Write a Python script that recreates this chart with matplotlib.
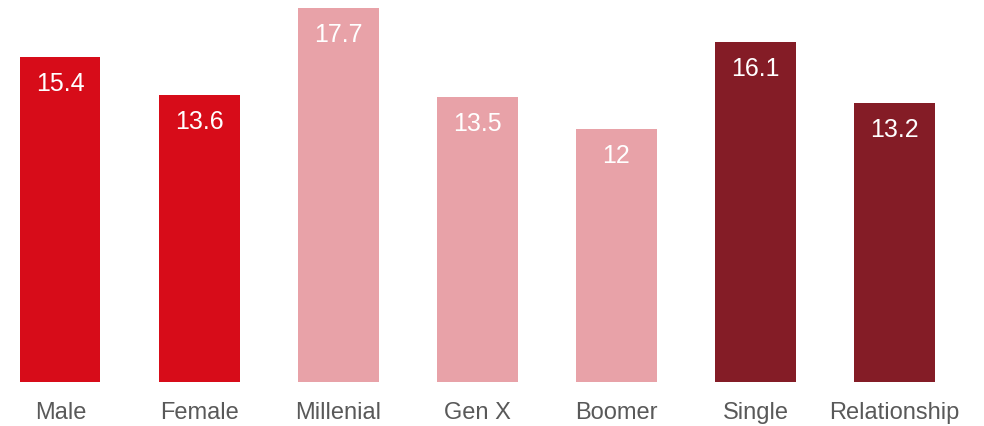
import matplotlib.pyplot as plt

categories = ['Male', 'Female', 'Millenial', 'Gen X', 'Boomer', 'Single', 'Relationship']
values = [15.4, 13.6, 17.7, 13.5, 12, 16.1, 13.2]
bar_colors = ['#D70C19', '#D70C19', '#E8A2A8', '#E8A2A8', '#E8A2A8', '#841C26', '#841C26']

plt.rcParams['font.family'] = ['Liberation Sans', 'DejaVu Sans']

fig = plt.figure(figsize=(9.84, 4.27), dpi=100)
ax = fig.add_axes([0, 0.1030, 1, 0.8970])

x = list(range(len(categories)))
bars = ax.bar(x, values, width=0.576, color=bar_colors)

# value labels inside the top of each bar
for xi, v in zip(x, values):
    label = ('%g' % v)
    ax.annotate(label, (xi, v), xytext=(0, -26), textcoords='offset pixels',
                ha='center', va='center', color='white', fontsize=18)

ax.set_xlim(-0.435, 6.644)
ax.set_ylim(0, 18.13)
ax.set_xticks(x)
ax.set_xticklabels(categories, fontsize=17, color='#595959')
ax.tick_params(axis='x', length=0, pad=14)
ax.set_yticks([])
for s in ax.spines.values():
    s.set_visible(False)

fig.savefig('out.png', dpi=100)
